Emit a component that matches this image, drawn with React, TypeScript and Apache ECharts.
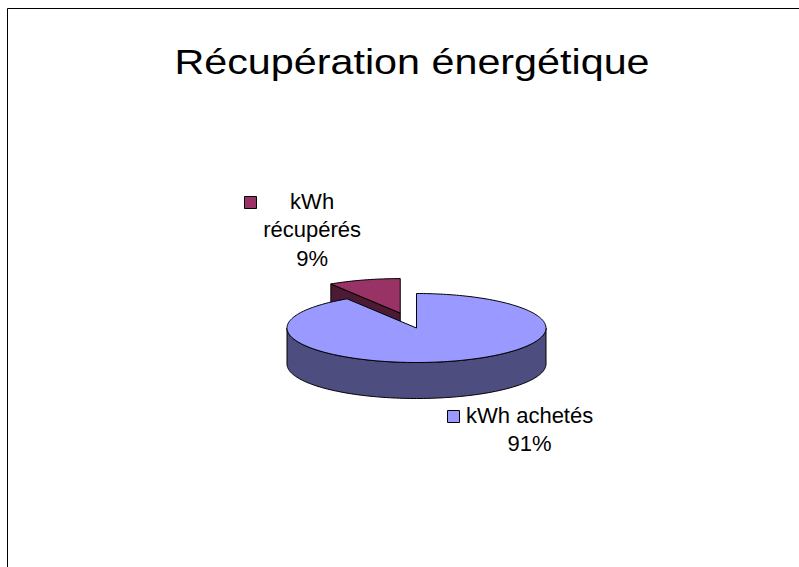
import React, { useEffect, useRef } from 'react';
import * as echarts from 'echarts';

const TITLE = 'Récupération énergétique';
const CATEGORIES = ['kWh achetés', 'kWh récupérés'];
const VALUES = [91, 9];
const COLORS_TOP = ['#9999FF', '#993366'];
const COLORS_SIDE = ['#4D4D80', '#4D1A33'];
const EXPLODE = [0, 0.45];
const LABEL_WRAP = [false, true];
const LABEL_OFFSET = [[77, 4], [-52, -93]];

const W = 799;
const H = 567;
const CX = 416.5;
const CY = 328;
const RX = 129.5;
const RY = 34.5;
const DEPTH = 36;
const FONT = "'Liberation Sans', Arial, sans-serif";
const LABEL_SIZE = 22;
const LABEL_LH = 28.5;
const TITLE_SIZE = 35;
const TITLE_SCALE_X = 1.18;

function measure(text: string, size: number): number {
  const c = document.createElement('canvas').getContext('2d');
  if (!c) return text.length * size * 0.5;
  c.font = `${size}px ${FONT}`;
  return c.measureText(text).width;
}

export default function App() {
  const ref = useRef<HTMLDivElement>(null);
  useEffect(() => {
    if (!ref.current) return;
    const chart = echarts.init(ref.current, null, { renderer: 'svg' });
    const total = VALUES.reduce((a, b) => a + b, 0);

    const renderItem = (params: any, api: any) => {
      const i = params.dataIndex;
      const v = api.value(0) as number;
      const before = VALUES.slice(0, i).reduce((a, b) => a + b, 0);
      const a0 = (before / total) * Math.PI * 2;
      const a1 = ((before + v) / total) * Math.PI * 2;
      const mid = (a0 + a1) / 2;
      const cx = CX + Math.sin(mid) * RX * EXPLODE[i];
      const cy = CY - Math.cos(mid) * RY * EXPLODE[i];
      const pt = (a: number, dy = 0) => [cx + Math.sin(a) * RX, cy - Math.cos(a) * RY + dy];
      const arc = (s: number, e: number, dy = 0) => {
        const n = Math.max(2, Math.ceil((e - s) / (Math.PI / 120)));
        const out: number[][] = [];
        for (let k = 0; k <= n; k++) out.push(pt(s + ((e - s) * k) / n, dy));
        return out;
      };
      const base = (1 - Math.cos(mid)) * 10;
      const stroke = { stroke: '#000', lineWidth: 1, lineJoin: 'round' };
      const children: any[] = [];

      const cut = (a: number, normal: number) => {
        if (Math.cos(normal) < -1e-6) {
          const p = pt(a);
          const pb = pt(a, DEPTH);
          children.push({
            type: 'polygon',
            z2: base + 1,
            shape: { points: [[cx, cy], p, pb, [cx, cy + DEPTH]] },
            style: { fill: COLORS_SIDE[i], ...stroke },
          });
        }
      };
      cut(a0, a0 - Math.PI / 2);
      cut(a1, a1 + Math.PI / 2);

      const s = Math.max(a0, Math.PI / 2);
      const e = Math.min(a1, (Math.PI * 3) / 2);
      if (e > s) {
        const pts = arc(s, e, 0).concat(arc(s, e, DEPTH).reverse());
        children.push({
          type: 'polygon',
          z2: base + 1.5,
          shape: { points: pts },
          style: { fill: COLORS_SIDE[i], ...stroke },
        });
      }

      children.push({
        type: 'polygon',
        z2: base + 2,
        shape: { points: [[cx, cy]].concat(arc(a0, a1, 0)) },
        style: { fill: COLORS_TOP[i], ...stroke },
      });

      // label
      const name = CATEGORIES[i];
      const lines = LABEL_WRAP[i] ? name.split(' ') : [name];
      lines.push(Math.round((v / total) * 100) + '%');
      const front = Math.cos(mid) < 0;
      const anchor = pt(mid, front ? DEPTH : 0);
      const lx = anchor[0] + LABEL_OFFSET[i][0];
      const ly = anchor[1] + LABEL_OFFSET[i][1];
      const maxW = Math.max(...lines.map((l) => measure(l, LABEL_SIZE)));
      children.push({
        type: 'text',
        z2: 50,
        x: lx,
        y: ly,
        style: {
          text: lines.join('\n'),
          fill: '#000',
          fontSize: LABEL_SIZE,
          fontFamily: FONT,
          lineHeight: LABEL_LH,
          align: 'center',
          verticalAlign: 'top',
        },
      });
      children.push({
        type: 'rect',
        z2: 50,
        shape: { x: Math.round(lx - maxW / 2 - 7 - 12) + 0.5, y: Math.round(ly + LABEL_LH / 2 - 5) + 0.5, width: 12, height: 12 },
        style: { fill: COLORS_TOP[i], stroke: '#000', lineWidth: 1 },
      });

      return { type: 'group', children };
    };

    chart.setOption({
      animation: false,
      backgroundColor: '#ffffff',
      graphic: [
        {
          type: 'rect',
          shape: { x: 7.5, y: 8.5, width: 900, height: 700 },
          style: { fill: 'none', stroke: '#000', lineWidth: 1 },
          z: 0,
        },
        {
          type: 'text',
          x: 412,
          y: 62,
          scaleX: TITLE_SCALE_X,
          style: {
            text: TITLE,
            fill: '#000',
            fontSize: TITLE_SIZE,
            fontFamily: FONT,
            align: 'center',
            verticalAlign: 'middle',
          },
          z: 10,
        },
      ],
      series: [
        {
          type: 'custom',
          coordinateSystem: 'none',
          renderItem,
          data: VALUES.map((v, k) => ({ name: CATEGORIES[k], value: [v] })),
          silent: true,
        },
      ],
    });
    return () => chart.dispose();
  }, []);
  return (
    <div
      ref={ref}
      style={{ position: 'fixed', left: 0, top: 0, width: W, height: H, background: '#fff' }}
    />
  );
}
